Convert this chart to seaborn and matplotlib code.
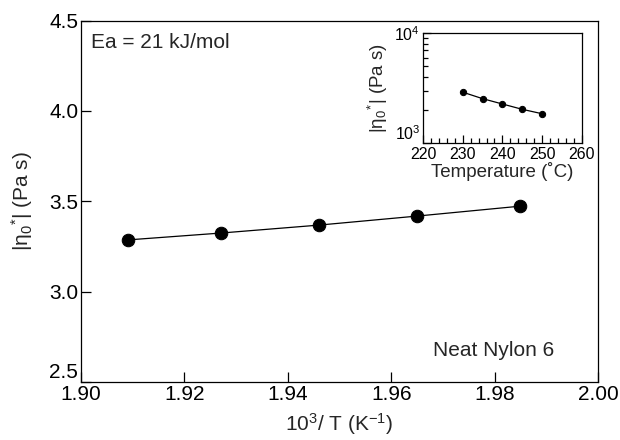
import matplotlib
matplotlib.use('Agg')
import matplotlib.pyplot as plt
import matplotlib.ticker as mticker
import pandas as pd
import seaborn as sns

# main panel: Arrhenius plot
inv_temp = [1.909, 1.927, 1.946, 1.965, 1.985]
log_visc = [3.286, 3.324, 3.368, 3.418, 3.473]

# inset: zero-shear viscosity vs temperature
temp_c = [230, 235, 240, 245, 250]
visc = [2910, 2540, 2270, 2030, 1850]

main_df = pd.DataFrame({'x': inv_temp, 'y': log_visc})
inset_df = pd.DataFrame({'T': temp_c, 'eta': visc})

sns.set_style('ticks')
plt.rcParams['font.family'] = ['Liberation Sans', 'DejaVu Sans']
plt.rcParams['mathtext.fontset'] = 'custom'
plt.rcParams['mathtext.rm'] = 'Liberation Sans'
plt.rcParams['mathtext.it'] = 'Liberation Sans:italic'
plt.rcParams['mathtext.default'] = 'regular'
plt.rcParams['axes.linewidth'] = 0.9

fig = plt.figure(figsize=(6.2, 4.4), dpi=100)
ax = fig.add_axes([0.1306, 0.1318, 0.834, 0.8216])

sns.lineplot(data=main_df, x='x', y='y', ax=ax, color='black', lw=0.9,
             marker='o', markersize=9, markeredgecolor='black')
ax.set_xlim(1.90, 2.00)
ax.set_ylim(2.5, 4.5)
ax.set_xticks([1.90, 1.92, 1.94, 1.96, 1.98, 2.00])
ax.set_yticks([2.5, 3.0, 3.5, 4.0, 4.5])
ax.xaxis.set_major_formatter(mticker.FormatStrFormatter('%.2f'))
ax.yaxis.set_major_formatter(mticker.FormatStrFormatter('%.1f'))
ax.tick_params(direction='in', length=7, width=0.9, labelsize=15, pad=2,
               colors='black')
ax.set_xlabel(r'10$^3$/ T (K$^{-1}$)', fontsize=15, labelpad=5)
ax.set_ylabel(r'$|\eta_0{}^{*}|$ (Pa s)', fontsize=15, labelpad=10)
for s in ax.spines.values():
    s.set_color('black')
# lowest y label sits just above the corner, clear of "1.90"
ax.yaxis.get_major_ticks()[0].label1.set_va('bottom')

ax.text(0.019, 0.924, 'Ea = 21 kJ/mol', transform=ax.transAxes,
        fontsize=15, ha='left', va='baseline')
ax.text(0.915, 0.072, 'Neat Nylon 6', transform=ax.transAxes,
        fontsize=15, ha='right', va='baseline')

ins = fig.add_axes([0.6823, 0.675, 0.256, 0.249])
sns.lineplot(data=inset_df, x='T', y='eta', ax=ins, color='black', lw=0.9,
             marker='o', markersize=4.5, markeredgecolor='black')
ins.set_yscale('log')
ins.set_xlim(220, 260)
ins.set_ylim(1e3, 1e4)
ins.set_xticks([220, 230, 240, 250, 260])
ins.set_yticks([1e3, 1e4])
ins.yaxis.set_major_formatter(mticker.LogFormatterSciNotation())
ins.xaxis.set_minor_locator(mticker.MultipleLocator(2))
ins.yaxis.set_minor_locator(mticker.LogLocator(base=10, subs=range(2, 10)))
ins.yaxis.set_minor_formatter(mticker.NullFormatter())
ins.tick_params(which='major', direction='in', length=6, width=0.9,
                labelsize=11.5, pad=2, colors='black')
ins.tick_params(axis='x', which='major', pad=3)
ins.tick_params(which='minor', direction='in', length=3.5, width=0.9,
                colors='black')
ins.set_xlabel('Temperature (˚C)', fontsize=13.5, labelpad=0)
ins.set_ylabel(r'$|\eta_0{}^{*}|$ (Pa s)', fontsize=13.5, labelpad=3)
for s in ins.spines.values():
    s.set_color('black')
ins.yaxis.get_major_ticks()[0].label1.set_va('bottom')

fig.savefig('out.png', dpi=100)
